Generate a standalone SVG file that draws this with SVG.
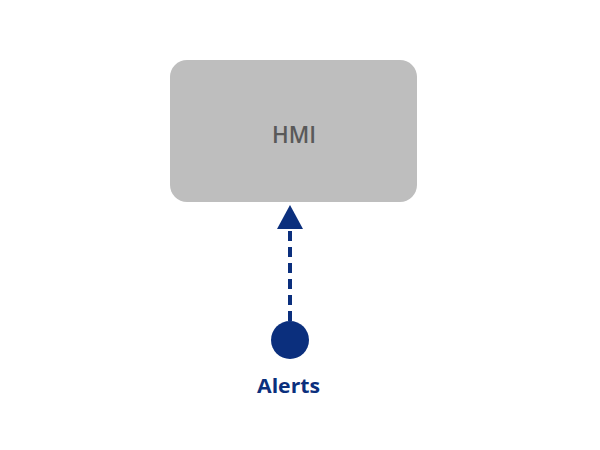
<svg xmlns="http://www.w3.org/2000/svg" width="600" height="450" viewBox="0 0 600 450">
  <style>
    .node-box { fill: #bebebe; }
    .node-label { font-family: "Open Sans", "Liberation Sans", sans-serif; font-size: 23px; font-weight: 600; fill: #595959; }
    .src-label { font-family: "Open Sans", "Liberation Sans", sans-serif; font-size: 19px; font-weight: bold; fill: #0b2f7d; }
    .conn { stroke: #0b2f7d; stroke-width: 4; fill: none; stroke-dasharray: 10 6; }
    .head { fill: #0b2f7d; }
  </style>
  <rect width="600" height="450" fill="#ffffff"/>
  <g id="hmi">
    <rect class="node-box" x="170" y="60" width="247" height="142" rx="17" ry="17"/>
    <text class="node-label" x="294" y="143" text-anchor="middle" textLength="44" lengthAdjust="spacingAndGlyphs">HMI</text>
  </g>
  <g id="connectors">
    <line class="conn" x1="290" y1="321" x2="290" y2="229"/>
    <path class="head" d="M290 205 L303 229 L277 229 Z"/>
  </g>
  <g id="alerts">
    <circle cx="290" cy="340" r="19" fill="#0b2f7d"/>
    <text class="src-label" x="288.5" y="393" text-anchor="middle" textLength="63" lengthAdjust="spacingAndGlyphs">Alerts</text>
  </g>
</svg>
